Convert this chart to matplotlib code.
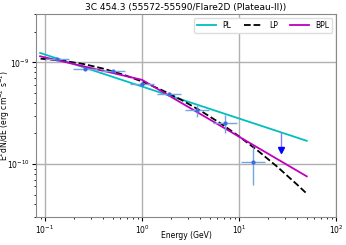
import matplotlib
matplotlib.use('Agg')
import matplotlib.pyplot as plt
import numpy as np

# flux points (GeV, erg cm^-2 s^-1)
e_pts = [0.133, 0.258, 0.502, 1.0, 1.90, 3.69, 7.18, 13.9]
e_lo = [0.033, 0.064, 0.125, 0.25, 0.47, 0.91, 1.78, 3.45]
e_hi = [0.045, 0.087, 0.168, 0.33, 0.64, 1.24, 2.40, 4.65]
f_pts = [1.08e-9, 8.66e-10, 8.27e-10, 6.15e-10, 4.90e-10, 3.37e-10, 2.53e-10, 1.04e-10]
f_lo = [0.02e-9, 0.2e-10, 0.2e-10, 0.2e-10, 0.25e-10, 0.47e-10, 0.52e-10, 0.42e-10]
f_hi = [0.02e-9, 0.2e-10, 0.2e-10, 0.2e-10, 0.25e-10, 0.44e-10, 0.50e-10, 0.42e-10]

# upper limit
ul_e = [27.1]
ul_top = [2.06e-10]
ul_bottom = [1.38e-10]

# model curves
pl_e = [0.089, 50.0]
pl_f = [1.24e-9, 1.69e-10]

lp_e = [0.09, 0.15, 0.25, 0.4, 0.65, 1.0, 1.6, 2.5, 4, 6.5, 10, 16, 25, 40, 50]
lp_f = [1.089e-9, 1.043e-9, 9.64e-10, 8.68e-10, 7.55e-10, 6.49e-10, 5.34e-10,
        4.32e-10, 3.35e-10, 2.50e-10, 1.873e-10, 1.328e-10, 9.33e-11, 6.23e-11, 5.10e-11]

bpl_e = [0.089, 1.0, 50.0]
bpl_f = [1.15e-9, 6.74e-10, 7.55e-11]


def main():
    fig = plt.figure(figsize=(3.46, 2.45), dpi=100)
    ax = fig.add_axes([0.104, 0.114, 0.867, 0.829])

    ax.plot(pl_e, pl_f, color='c', lw=1.3, label='PL')
    ax.plot(lp_e, lp_f, color='k', ls='--', lw=1.3, label='LP')
    ax.plot(bpl_e, bpl_f, color='m', lw=1.3, label='BPL')

    ax.errorbar(e_pts, f_pts, xerr=[e_lo, e_hi], yerr=[f_lo, f_hi],
                fmt='.', ms=4, color='royalblue', ecolor='#6fa8dc', elinewidth=1)
    ax.vlines(ul_e, ul_bottom, ul_top, color='#8080ff', lw=1)
    ax.plot(ul_e, ul_bottom, 'v', color='blue', ms=4)

    ax.set_xscale('log')
    ax.set_yscale('log')
    ax.set_xlim(0.0807, 100)
    ax.set_ylim(3.0e-11, 3.0e-9)
    ax.grid(True, which='major', color='#b0b0b0', lw=1)

    ax.set_title('3C 454.3 (55572-55590/Flare2D (Plateau-II))', fontsize=6.5, pad=3)
    ax.set_xlabel('Energy (GeV)', fontsize=5.5)
    ax.set_ylabel(r'E$^2$dN/dE (erg cm$^{-2}$ s$^{-1}$)', fontsize=5.5)
    ax.xaxis.set_label_coords(0.5, -0.07)
    ax.yaxis.set_label_coords(-0.08, 0.5)
    ax.tick_params(labelsize=5.5, pad=1.5)
    ax.tick_params(which='major', length=3)
    ax.tick_params(which='minor', length=1.5)
    for s in ax.spines.values():
        s.set_color('#888888')

    ax.legend(loc='upper right', ncol=3, fontsize=5.5, handlelength=2.5,
              columnspacing=1.6, framealpha=1, edgecolor='#dddddd', fancybox=True)

    fig.savefig('out.png', dpi=100)


if __name__ == '__main__':
    main()
